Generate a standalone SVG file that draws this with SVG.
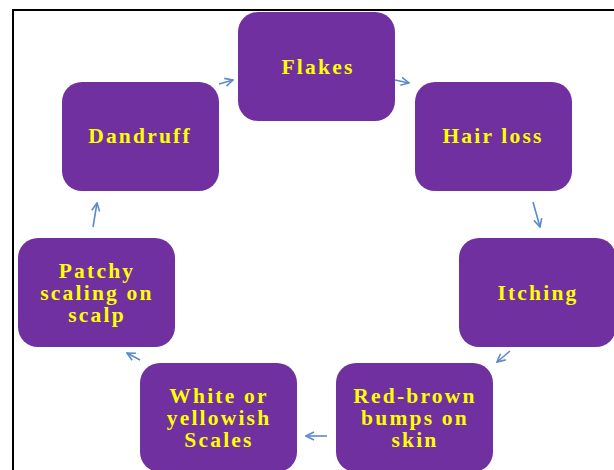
<svg xmlns="http://www.w3.org/2000/svg" width="614" height="470" viewBox="0 0 614 470">
<style>
.box{fill:#7030A0;}
.lbl{font-family:"Liberation Serif","Times New Roman",serif;font-weight:bold;font-size:21.5px;fill:#FFFF00;text-anchor:middle;letter-spacing:2.2px;}
.arr{fill:none;stroke:#5B8BC8;stroke-width:1.6;marker-end:url(#ah);}
</style>
<defs>
<marker id="ah" viewBox="0 0 10 10" markerWidth="10" markerHeight="10" refX="9" refY="5" orient="auto" markerUnits="userSpaceOnUse">
<path d="M1,1 L9,5 L1,9" fill="none" stroke="#5B8BC8" stroke-width="1.6"/>
</marker>
</defs>
<rect width="614" height="470" fill="#ffffff"/>
<path d="M13,470 L13,10 L614,10" fill="none" stroke="#000" stroke-width="2"/>
<g id="flakes"><rect class="box" x="238" y="12" width="157" height="109" rx="20"/><text class="lbl" x="318" y="74">Flakes</text></g>
<g id="hairloss"><rect class="box" x="415" y="82" width="157" height="109" rx="20"/><text class="lbl" x="493" y="143">Hair loss</text></g>
<g id="itching"><rect class="box" x="459" y="238" width="157" height="109" rx="20"/><text class="lbl" x="538" y="300">Itching</text></g>
<g id="redbrown"><rect class="box" x="336" y="363" width="157" height="109" rx="20"/><text class="lbl" x="415" y="403">Red-brown</text><text class="lbl" x="415" y="425">bumps on</text><text class="lbl" x="415" y="447">skin</text></g>
<g id="white"><rect class="box" x="140" y="363" width="157" height="109" rx="20"/><text class="lbl" x="219" y="403">White or</text><text class="lbl" x="219" y="425">yellowish</text><text class="lbl" x="219" y="447">Scales</text></g>
<g id="patchy"><rect class="box" x="18" y="238" width="157" height="109" rx="20"/><text class="lbl" x="97" y="278">Patchy</text><text class="lbl" x="97" y="300">scaling on</text><text class="lbl" x="97" y="322">scalp</text></g>
<g id="dandruff"><rect class="box" x="62" y="82" width="157" height="109" rx="20"/><text class="lbl" x="140" y="143">Dandruff</text></g>
<g id="connectors">
<path class="arr" d="M219,84 L233,80"/>
<path class="arr" d="M395,80 L409,83"/>
<path class="arr" d="M533,202 L540,227"/>
<path class="arr" d="M510,351 L497,362"/>
<path class="arr" d="M327,436 L306,436"/>
<path class="arr" d="M140,360 L127,353"/>
<path class="arr" d="M93,227 L97,203"/>
</g>
</svg>
